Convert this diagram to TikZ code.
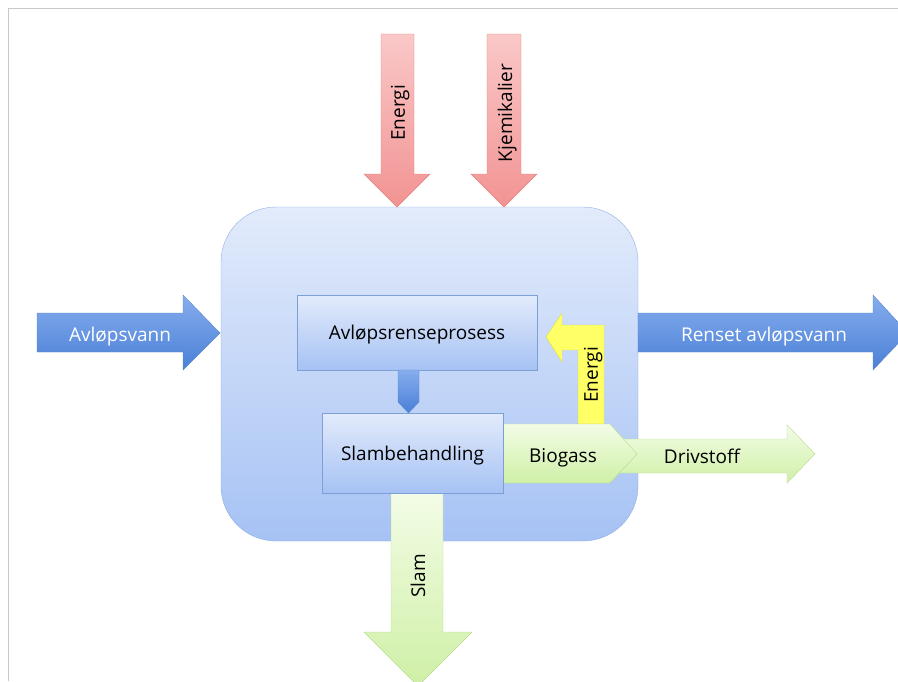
\documentclass[tikz,border=0pt]{standalone}
\usepackage{fontspec}
\setmainfont{Open Sans}
\usetikzlibrary{positioning, calc}
\definecolor{frameGray}{HTML}{C8C8C8}
\definecolor{boxTop}{HTML}{E2EBFB}
\definecolor{boxBot}{HTML}{A6C2F4}
\definecolor{boxLine}{HTML}{8FAFE3}
\definecolor{innerLine}{HTML}{7E9ED6}
\definecolor{bArrTop}{HTML}{86ADEE}
\definecolor{bArrBot}{HTML}{4A80D6}
\definecolor{bArrLine}{HTML}{5A88CF}
\definecolor{rTop}{HTML}{FAC8C8}
\definecolor{rBot}{HTML}{F29393}
\definecolor{rLine}{HTML}{E58080}
\definecolor{gTop}{HTML}{F3FCE6}
\definecolor{gBot}{HTML}{CFF0A6}
\definecolor{gLine}{HTML}{B6DA8E}
\definecolor{yFill}{HTML}{FFFF66}
\definecolor{yLine}{HTML}{D9D94A}

\begin{document}
\begin{tikzpicture}[x=1pt, y=-1pt,
  stage/.style={draw=innerLine, top color=boxTop, bottom color=boxBot,
                align=center, text depth=0pt, font=\fontsize{19}{22}\selectfont},
  bluearrow/.style={draw=bArrLine, top color=bArrTop, bottom color=bArrBot},
  redarrow/.style={draw=rLine, top color=rTop, bottom color=rBot},
  greenarrow/.style={draw=gLine, top color=gTop, bottom color=gBot},
  lbl/.style={font=\fontsize{19}{22}\selectfont, inner sep=0pt, text depth=0pt},
]
  \useasboundingbox (0,0) rectangle (898,681);
  \clip (0,0) rectangle (898,681);
  \draw[frameGray] (8,681) -- (8,8) -- (898,8);

  % plant
  \draw[draw=boxLine, top color=boxTop, bottom color=boxBot, rounded corners=55pt]
    (221,207) rectangle (638,541);

  % inputs from above
  \draw[redarrow] (381,34) -- (414,34) -- (414,174) -- (430,174) -- (397,207)
    -- (364,174) -- (381,174) -- cycle;
  \draw[redarrow] (487,34) -- (521,34) -- (521,174) -- (537,174) -- (504,207)
    -- (471,174) -- (487,174) -- cycle;
  \node[lbl, rotate=90] (energiIn) at (398,113) {Energi};
  \node[lbl, rotate=90] (kjemi) at (505,113) {Kjemikalier};

  % water in and out
  \draw[bluearrow] (37,313) -- (183,313) -- (183,295) -- (220,333) -- (183,370)
    -- (183,352) -- (37,352) -- cycle;
  \draw[bluearrow] (638,313) -- (873,313) -- (873,295) -- (908,333) -- (873,370)
    -- (873,352) -- (638,352) -- cycle;
  \node[lbl, text=white] (inn) at (120,334) {Avløpsvann};
  \node[lbl, text=white] (ut) at (764,334) {Renset avløpsvann};

  % sludge out
  \draw[greenarrow] (391,493) -- (443,493) -- (443,632) -- (472,632) -- (418,686)
    -- (364,632) -- (391,632) -- cycle;
  \node[lbl, rotate=90] (slam) at (418,576) {Slam};

  % fuel
  \draw[greenarrow] (610,439) -- (787,439) -- (787,425) -- (815,454) -- (787,483)
    -- (787,473) -- (610,473) -- cycle;
  \node[lbl] (drivstoff) at (702,456) {Drivstoff};

  % energy back to process
  \draw[draw=yLine, fill=yFill] (604,424) -- (604,325) -- (562,325) -- (562,313)
    -- (546,337) -- (562,362) -- (562,350) -- (578,350) -- (578,424) -- cycle;
  \node[lbl, rotate=90] (energiRet) at (591,375) {Energi};

  % biogas
  \draw[greenarrow] (503,424) -- (610,424) -- (637,454) -- (610,483) -- (503,483) -- cycle;
  \node[lbl] (biogass) at (563,456) {Biogass};

  % stages
  \node[stage, minimum width=240pt, minimum height=75pt] (prosess) at (417,332.5)
    {Avløpsrenseprosess};
  \draw[bluearrow] (398,370) -- (419,370) -- (419,402) -- (408.5,413) -- (398,402) -- cycle;
  \node[stage, minimum width=181pt, minimum height=80pt] (slambeh) at (412.5,453)
    {Slambehandling};
\end{tikzpicture}
\end{document}
